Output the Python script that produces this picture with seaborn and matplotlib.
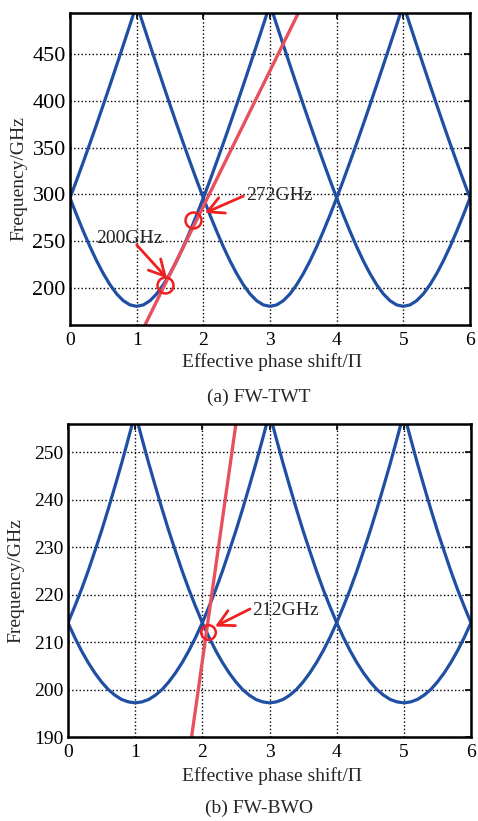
import numpy as np
import pandas as pd
import matplotlib
matplotlib.use("Agg")
import matplotlib.pyplot as plt
import seaborn as sns

# ---- data ----
# distance (in units of pi) from the centre of one spatial-harmonic band
branch_offset = [0.0, 0.1, 0.2, 0.3, 0.4, 0.5, 0.6, 0.7, 0.8, 0.9, 1.0,
                 1.1, 1.2, 1.3, 1.4, 1.5, 1.6, 1.7, 1.8, 1.9, 2.0]
# (a) FW-TWT band frequency (GHz) vs offset
twt_band_freq = [180.0, 181.5, 186.0, 193.3, 203.1, 215.0, 228.6, 243.8, 260.3, 277.7, 296.0,
                 315.0, 334.6, 354.6, 375.0, 395.8, 416.9, 438.2, 459.7, 481.4, 503.3]
# (b) FW-BWO band frequency (GHz) vs offset
bwo_band_freq = [197.2, 197.4, 197.9, 198.8, 200.0, 201.6, 203.5, 205.7, 208.2, 211.0, 214.1,
                 217.5, 221.1, 225.0, 229.2, 233.5, 238.1, 242.9, 247.8, 253.0, 258.3]
band_centers = [-1, 1, 3, 5, 7]

# beam (electron) lines
twt_beam_x = [1.125, 3.425]
twt_beam_f = [160.0, 494.0]
bwo_beam_x = [1.84, 2.50]
bwo_beam_f = [190.0, 256.0]

# marked operating points
twt_points_x = [1.425, 1.85]
twt_points_f = [202.9, 272.5]
twt_labels = ["200GHz", "272GHz"]
bwo_points_x = [2.09]
bwo_points_f = [212.2]
bwo_labels = ["212GHz"]

x_ticks = [0, 1, 2, 3, 4, 5, 6]
twt_yticks = [200, 250, 300, 350, 400, 450]
bwo_yticks = [190, 200, 210, 220, 230, 240, 250]

BLUE = "#1f4fa3"
BEAM = "#e8505e"
RED = "#f02020"
FS = 14

sns.set_style("white")
plt.rcParams["font.family"] = ["Liberation Serif", "DejaVu Serif"]


def band_frame(freqs):
    rows = []
    off = np.array(branch_offset)
    fr = np.array(freqs)
    xs_rel = np.concatenate([-off[::-1], off[1:]])
    fs = np.concatenate([fr[::-1], fr[1:]])
    for i, c in enumerate(band_centers):
        for xr, f in zip(xs_rel, fs):
            rows.append({"x": c + xr, "f": f, "band": i})
    return pd.DataFrame(rows)


def style_axes(ax, ylim, yticks, ytick_fs, xl_pos, yl_pos):
    ax.set_xlim(0, 6)
    ax.set_ylim(*ylim)
    ax.set_xticks(x_ticks)
    ax.set_yticks(yticks)
    ax.grid(True, linestyle=":", color="black", linewidth=1.0)
    ax.tick_params(direction="in", top=True, right=True, length=4, width=1.2,
                   colors="black", pad=5)
    ax.tick_params(axis="x", labelsize=FS)
    ax.tick_params(axis="y", labelsize=ytick_fs, pad=3)
    for s in ax.spines.values():
        s.set_linewidth(1.8)
        s.set_color("black")
    ax.set_xlabel("Effective phase shift/Π", fontsize=FS)
    ax.set_ylabel("Frequency/GHz", fontsize=FS)
    ax.xaxis.label.set_va("center")
    ax.yaxis.label.set_va("center")
    ax.xaxis.set_label_coords(*xl_pos)
    ax.yaxis.set_label_coords(*yl_pos)
    ax.set_facecolor("white")


ARROW = dict(arrowstyle="->,head_length=0.75,head_width=0.4",
             color=RED, lw=2.0, mutation_scale=15, shrinkA=0, shrinkB=0)

fig = plt.figure(figsize=(4.78, 8.21), dpi=100)
ax1 = fig.add_axes([70 / 478, 1 - 325 / 821, 400 / 478, 312 / 821])
ax2 = fig.add_axes([68 / 478, 1 - 737 / 821, 403 / 478, 313 / 821])

# ---- (a) FW-TWT ----
df1 = band_frame(twt_band_freq)
sns.lineplot(data=df1, x="x", y="f", units="band", estimator=None, sort=False,
             color=BLUE, linewidth=2.3, ax=ax1, legend=False)
sns.lineplot(x=twt_beam_x, y=twt_beam_f, color=BEAM, linewidth=2.4, ax=ax1,
             estimator=None, sort=False)
ax1.plot(twt_points_x, twt_points_f, "o", ms=11.5, mfc="none", mec=RED, mew=1.8,
         zorder=5)
ax1.annotate("", xy=(1.455, 210.0), xytext=(1.0, 245.7), arrowprops=ARROW, zorder=6)
ax1.text(0.885, 252.9, twt_labels[0], ha="center", va="center", fontsize=FS,
         zorder=7)
ax1.annotate("", xy=(2.025, 280.0), xytext=(2.6, 298.0), arrowprops=ARROW, zorder=6)
ax1.text(2.635, 298.3, twt_labels[1], ha="left", va="center", fontsize=FS,
         zorder=7)
style_axes(ax1, (160, 494), twt_yticks, 16, (0.505, -0.119), (-0.128, 0.47))

# ---- (b) FW-BWO ----
df2 = band_frame(bwo_band_freq)
sns.lineplot(data=df2, x="x", y="f", units="band", estimator=None, sort=False,
             color=BLUE, linewidth=2.3, ax=ax2, legend=False)
sns.lineplot(x=bwo_beam_x, y=bwo_beam_f, color=BEAM, linewidth=2.4, ax=ax2,
             estimator=None, sort=False)
ax2.plot(bwo_points_x, bwo_points_f, "o", ms=10.5, mfc="none", mec=RED, mew=1.8,
         zorder=5)
ax2.annotate("", xy=(2.19, 213.3), xytext=(2.71, 217.0), arrowprops=ARROW, zorder=6)
ax2.text(2.74, 216.6, bwo_labels[0], ha="left", va="center", fontsize=FS,
         zorder=7)
style_axes(ax2, (190, 256), bwo_yticks, FS, (0.507, -0.125), (-0.129, 0.5))

fig.text(259 / 478, 1 - 397 / 821, "(a) FW-TWT", ha="center", va="center",
         fontsize=FS)
fig.text(259 / 478, 1 - 808 / 821, "(b) FW-BWO", ha="center", va="center",
         fontsize=FS)

fig.savefig("out.png", dpi=100, facecolor="white")
